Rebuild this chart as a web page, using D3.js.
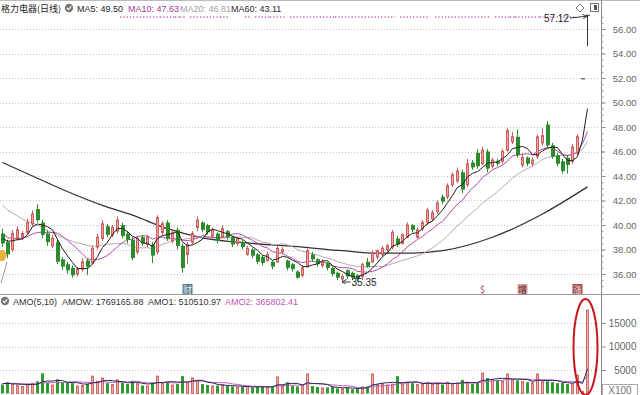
<!DOCTYPE html>
<html><head><meta charset="utf-8">
<script src="https://cdn.jsdelivr.net/npm/d3@7"></script>
<style>body{margin:0;background:#fff;}svg{display:block;font-family:"Liberation Sans",Arial,sans-serif;}</style>
</head><body><svg id="c" width="640" height="395"></svg>
<script>
// ---------- data ----------
const prevCloses = [44.8,44.6,44.3,44.5,44.0,43.7,43.4,43.5,43.3,42.9,40.8,40.1,39.5,39.2,38.9,38.7,39.2,39.0,39.1];
const opens = [39.3,38.6,38.0,38.9,39.0,39.4,40.1,41.3,40.2,39.3,
 38.3,38.6,37.2,36.8,36.5,36.0,36.4,37.1,36.9,38.2,
 38.9,39.9,39.2,39.5,40.0,39.3,38.8,37.8,39.0,38.4,
 38.4,37.8,39.4,40.2,38.7,39.6,38.3,37.6,38.6,39.8,
 40.2,40.0,39.1,39.3,39.0,39.5,39.0,38.5,38.6,37.6,
 38.0,37.6,37.4,37.1,37.0,37.0,37.8,37.1,36.8,36.2,
 35.9,36.6,37.6,37.2,36.7,36.9,36.5,36.1,35.6,36.3,
 36.1,35.9,35.8,37.0,37.0,37.4,37.6,38.0,38.2,38.9,
 38.5,39.0,40.0,39.0,39.7,40.2,40.5,41.1,42.3,42.3,
 43.3,43.6,44.3,43.3,45.1,45.9,45.0,46.0,44.8,45.2,
 45.2,46.1,46.8,47.2,44.9,45.5,45.0,45.6,46.7,48.2,
 46.5,45.7,45.2,45.5,45.2,45.9,51.93,57.12];
const highs = [39.7,38.8,39.6,39.9,39.5,40.5,41.2,41.7,40.4,39.6,
 39.2,38.8,37.4,37.0,36.7,36.6,37.3,37.3,38.3,39.3,
 40.4,40.1,40.0,40.7,40.2,39.5,39.0,39.1,39.2,39.2,
 38.6,40.8,40.3,40.4,39.6,39.8,38.5,38.6,39.5,40.7,
 40.3,40.1,39.8,39.4,40.0,39.6,39.1,39.0,38.8,38.3,
 38.1,37.7,37.5,37.8,37.1,38.3,38.2,37.2,36.9,36.3,
 36.7,38.1,37.8,37.3,37.2,37.0,36.6,36.2,36.0,36.4,
 36.2,36.0,36.9,37.3,37.9,38.0,38.3,38.5,39.6,39.1,
 39.3,40.2,40.1,39.8,40.4,41.4,41.2,42.0,42.5,43.4,
 44.3,44.7,44.5,45.4,45.3,46.2,46.4,46.2,45.5,45.4,
 46.2,47.9,47.6,47.8,45.8,45.6,45.5,47.4,47.9,48.5,
 46.7,45.9,45.4,45.7,46.6,47.4,51.93,57.12];
const lows = [38.2,37.3,37.8,38.7,38.8,39.2,39.9,40.2,38.9,38.3,
 38.1,36.8,36.3,36.0,35.7,35.8,36.2,35.9,36.8,38.0,
 38.7,39.0,39.0,39.3,38.9,38.5,37.1,37.6,38.3,38.2,
 36.9,37.6,39.2,38.7,38.5,38.0,36.1,36.8,38.4,39.5,
 39.4,39.2,38.9,38.5,38.9,38.8,38.2,38.3,38.0,37.5,
 37.3,36.8,36.7,37.0,36.4,36.9,37.6,36.3,36.2,35.6,
 35.7,36.5,37.0,36.6,36.5,36.3,35.8,35.5,35.35,35.6,
 35.5,35.4,35.5,36.5,36.9,37.2,37.4,37.8,38.0,38.2,
 38.4,38.9,39.4,38.9,39.5,40.0,40.3,40.9,41.7,42.1,
 43.1,43.4,42.6,43.1,44.5,44.6,44.9,44.3,44.6,44.8,
 45.0,46.0,46.6,45.5,44.7,44.8,44.8,45.4,46.5,46.3,
 45.4,44.8,44.2,44.2,45.0,45.7,51.93,54.6];
const closes = [38.5,37.6,39.3,39.6,39.3,40.2,40.9,40.4,39.2,38.6,
 38.9,37.0,36.6,36.3,35.9,36.4,37.0,36.6,38.1,39.0,
 40.1,39.2,39.8,40.4,39.1,38.8,37.3,38.9,38.5,39.0,
 37.5,40.6,40.1,38.9,39.4,38.3,36.5,38.4,39.3,40.4,
 39.6,39.4,39.6,38.7,39.7,39.0,38.4,38.9,38.2,38.1,
 37.5,37.0,36.9,37.6,36.6,38.1,38.0,36.5,36.4,35.7,
 36.5,37.9,37.2,36.8,37.0,36.5,36.0,35.7,35.8,35.8,
 35.7,35.6,36.8,36.6,37.7,37.9,38.1,38.3,39.4,38.4,
 39.2,40.0,39.6,39.6,40.2,41.2,41.0,41.8,41.9,43.2,
 44.1,44.4,42.9,45.0,44.7,44.8,46.1,44.6,45.3,45.0,
 46.0,47.7,47.2,45.7,45.5,45.0,45.3,47.2,47.3,46.5,
 45.58,45.0,44.4,44.9,46.36,47.21,51.93,57.12];
const prevVolumes = [2200,2500,2000,1800,2300,2100,2600,1900,2000];
const volumes = [1900,2400,2100,1800,1500,1900,2200,2600,4300,2300,
 1800,3000,2400,2300,2200,1600,1700,2100,3700,2600,
 3300,2200,1900,2900,2300,2000,2700,2100,1700,1600,
 2400,3700,2200,2500,1800,2000,3700,2400,3300,2600,
 2000,1800,1600,1700,1900,1600,1500,1300,1400,1500,
 1300,1500,1400,1300,1500,3500,1700,2400,1600,1500,
 1800,4150,1600,1400,1200,1300,1500,1100,1000,1300,
 900,1100,1400,1500,4150,1900,2100,1800,2000,3700,
 2000,2400,2200,1900,2100,2300,2000,2200,1900,2400,
 2100,2200,2900,2300,2000,2400,4350,3300,3000,2900,
 2600,4150,2900,2800,2500,2400,2300,4150,2500,2600,
 2400,2200,2300,2000,2100,3900,400,17750];
// MA60: [day index, value]
const ma60Reads = [[0,45.1],[6,44.0],[12,42.9],[20,41.6],[26,40.8],[33,39.7],[40,38.95],[50,38.5],[60,38.2],[68,37.9],[75,37.7],[82,37.7],[88,37.9],[98,39.0],[108,40.9],[117,43.11]];
const priceTicks = [36,38,40,42,44,46,48,50,52,54,56];
const volTicks = [5000,10000,15000];
const markerRanges = [[24,31],[32,34],[35,35],[36,36],[38,43],[44,45],[49,49],[51,53],[54,56],[58,66],[67,78],[80,85],[87,97],[99,101],[102,102],[103,107],[108,114]];
const eventTags = [{i:37,t:"财",bg:"#4f7c8c",fg:"#e8f0f0"},{i:96,t:"$",bg:null,fg:"#a83a3a"},{i:104,t:"增",bg:"#d9a3a3",fg:"#5a2020"},{i:115,t:"涨",bg:"#9c4646",fg:"#f4dede"}];
const legendItems = [{t:"MA5: 49.50",c:"#222",x:77},{t:"MA10: 47.63",c:"#a23c98",x:128},{t:"MA20: 46.81",c:"#a99ca3",x:180},{t:"MA60: 43.11",c:"#2b2b2b",x:231}];
const volLegend = [{t:"AMO(5,10)",c:"#333",x:13},{t:"AMOW: 1769165.88",c:"#333",x:62},{t:"AMO1: 510510.97",c:"#333",x:148},{t:"AMO2: 365802.41",c:"#c058b0",x:225}];

// ---------- scales ----------
const n = closes.length;
const svg = d3.select("#c");
const x = d3.scaleBand().domain(d3.range(n)).range([0,590]).paddingInner(0.4).paddingOuter(0.2);
const cx = i => x(i) + x.bandwidth()/2;
const y = d3.scaleLinear().domain([36,56]).range([274,29]);
const yv = d3.scaleLinear().domain([0,15000]).range([393.5,323]);

// frame
svg.append("line").attr("x1",0).attr("x2",640).attr("y1",0.5).attr("y2",0.5).attr("stroke","#bbb");
svg.append("line").attr("x1",0).attr("x2",640).attr("y1",294.5).attr("y2",294.5).attr("stroke","#999");
svg.append("line").attr("x1",601.5).attr("x2",601.5).attr("y1",0).attr("y2",395).attr("stroke","#888");

// grid
const grid = svg.append("g").attr("stroke","#cdbec6").attr("stroke-dasharray","1,2");
grid.selectAll("line.p").data(priceTicks).join("line").attr("class","p")
  .attr("x1",0).attr("x2",600).attr("y1",d=>Math.round(y(d))+0.5).attr("y2",d=>Math.round(y(d))+0.5);
grid.selectAll("line.v").data(volTicks).join("line").attr("class","v")
  .attr("x1",0).attr("x2",600).attr("y1",d=>Math.round(yv(d))+0.5).attr("y2",d=>Math.round(yv(d))+0.5);

// axes
const ax = svg.append("g").attr("transform","translate(601.5,0)")
  .call(d3.axisRight(y).tickValues(priceTicks).tickSize(4).tickFormat(d3.format(".2f")));
ax.select(".domain").remove();
ax.selectAll("line").attr("stroke","#888");
ax.selectAll("text").attr("x",35).attr("text-anchor","end").attr("fill","#666")
  .attr("font-size","9.5px").attr("font-family","'Liberation Sans',Arial,sans-serif");
const axm = svg.append("g").attr("transform","translate(601.5,0)")
  .call(d3.axisRight(y).tickValues(d3.range(35,57.5,0.5)).tickSize(2).tickFormat(""));
axm.select(".domain").remove(); axm.selectAll("line").attr("stroke","#999");
const axv = svg.append("g").attr("transform","translate(601.5,0)")
  .call(d3.axisRight(yv).tickValues(volTicks).tickSize(4).tickFormat(d3.format("d")));
axv.select(".domain").remove();
axv.selectAll("line").attr("stroke","#888");
axv.selectAll("text").attr("x",35).attr("text-anchor","end").attr("fill","#666")
  .attr("font-size","10px").attr("font-family","'Liberation Sans',Arial,sans-serif");
svg.append("rect").attr("x",602.5).attr("y",384.5).attr("width",35).attr("height",11).attr("fill","#fff").attr("stroke","#aaa");
svg.append("text").attr("x",620).attr("y",393.5).attr("text-anchor","middle").attr("font-size","10px").attr("fill","#777").text("X100");

// top event markers
const mk = svg.append("g").attr("stroke","#c46aae").attr("stroke-width",1.4).attr("stroke-dasharray","1.3,2");
mk.selectAll("line").data(markerRanges).join("line")
  .attr("x1",d=>x(d[0])-1).attr("x2",d=>x(d[1])+x.bandwidth()+1).attr("y1",17).attr("y2",17);

// moving averages
const allC = prevCloses.concat(closes);
const off = prevCloses.length;
const ma = k => d3.range(n).map(i => d3.mean(allC.slice(Math.max(0,i+off-k+1), i+off+1)));
const lineP = d3.line().x((d,i)=>cx(i)).y(d=>y(d));
svg.append("path").attr("d", d3.line().x(d=>cx(d[0])).y(d=>y(d[1])).curve(d3.curveMonotoneX)(ma60Reads))
  .attr("fill","none").attr("stroke","#3a2f34").attr("stroke-width",1.3);
svg.append("path").attr("d", lineP(ma(20))).attr("fill","none").attr("stroke","#b8a8b0").attr("stroke-width",1);
svg.append("path").attr("d", lineP(ma(10))).attr("fill","none").attr("stroke","#b04aa2").attr("stroke-width",1);

// candles
const data = d3.range(n).map(i=>({i,o:opens[i],h:highs[i],l:lows[i],c:closes[i],v:volumes[i]}));
const col = d => d.c===d.o ? "#333" : (d.c>d.o ? "#cf5c5c" : "#2c8c2c");
const cg = svg.append("g");
cg.selectAll("line").data(data).join("line")
  .attr("x1",d=>cx(d.i)).attr("x2",d=>cx(d.i)).attr("y1",d=>y(d.h)).attr("y2",d=>y(d.l))
  .attr("stroke",col).attr("stroke-width",1);
cg.selectAll("rect").data(data).join("rect")
  .attr("x",d=>d.c>d.o ? x(d.i)+0.5 : x(d.i))
  .attr("width",d=>d.c>d.o ? x.bandwidth()-1 : x.bandwidth()+1)
  .attr("y",d=>y(Math.max(d.o,d.c)) - (d.c===d.o?0.5:0))
  .attr("height",d=>Math.max(1, Math.abs(y(d.o)-y(d.c))))
  .attr("fill",d=>d.c===d.o ? "#333" : (d.c>d.o ? "#eaa6a6" : "#2c8c2c"))
  .attr("stroke",d=>d.c>d.o ? "#cf5c5c" : "none").attr("stroke-width",1);

svg.append("path").attr("d", lineP(ma(5))).attr("fill","none").attr("stroke","#1e1e1e").attr("stroke-width",1);

// annotations
const defs = svg.append("defs");
defs.append("marker").attr("id","ah").attr("viewBox","0 0 6 6").attr("refX",5).attr("refY",3)
  .attr("markerWidth",5).attr("markerHeight",5).attr("orient","auto")
  .append("path").attr("d","M0,0L6,3L0,6").attr("fill","none").attr("stroke","#333");
const hiI = d3.maxIndex(highs), loI = d3.minIndex(lows);
svg.append("line").attr("x1",570).attr("y1",18).attr("x2",cx(hiI)-1).attr("y2",y(highs[hiI])+1)
  .attr("stroke","#333").attr("marker-end","url(#ah)");
svg.append("text").attr("x",569).attr("y",22).attr("text-anchor","end").attr("font-size","10px").attr("fill","#222").text(d3.format(".2f")(highs[hiI]));
svg.append("line").attr("x1",cx(loI)+8).attr("y1",y(lows[loI])).attr("x2",cx(loI)).attr("y2",y(lows[loI]))
  .attr("stroke","#333").attr("marker-end","url(#ah)");
svg.append("text").attr("x",cx(loI)+9).attr("y",y(lows[loI])+4).attr("font-size","10px").attr("fill","#222").text(d3.format(".2f")(lows[loI]));

// event tags at panel bottom
const tg = svg.selectAll("g.tag").data(eventTags).join("g").attr("class","tag")
  .attr("transform",d=>`translate(${cx(d.i)},289)`);
tg.filter(d=>d.bg).append("rect").attr("x",-5).attr("y",-5).attr("width",10).attr("height",10).attr("fill",d=>d.bg);
tg.append("text").attr("text-anchor","middle").attr("y",3.5).attr("font-size","9px")
  .attr("font-family","'Noto Sans CJK SC',sans-serif").attr("fill",d=>d.fg).text(d=>d.t);

// volume bars
const vg = svg.append("g");
vg.selectAll("rect").data(data).join("rect")
  .attr("x",d=>d.c>=d.o ? x(d.i)+0.5 : x(d.i))
  .attr("width",d=>d.c>=d.o ? x.bandwidth()-1 : x.bandwidth())
  .attr("y",d=>yv(d.v)).attr("height",d=>yv(0)-yv(d.v))
  .attr("fill",d=>d.c>=d.o ? "#eba9a9" : "#2f9a2f")
  .attr("stroke",d=>d.c>=d.o ? "#cf6a6a" : "none");
const allV = prevVolumes.concat(volumes), vo = prevVolumes.length;
const vma = k => d3.range(n).map(i => d3.mean(allV.slice(Math.max(0,i+vo-k+1), i+vo+1)));
const lineV = d3.line().x((d,i)=>cx(i)).y(d=>yv(d));
svg.append("path").attr("d", lineV(vma(10))).attr("fill","none").attr("stroke","#c35ab5").attr("stroke-width",1);
svg.append("path").attr("d", lineV(vma(5))).attr("fill","none").attr("stroke","#27285e").attr("stroke-width",1);

// red ellipse highlight
svg.append("ellipse").attr("cx",cx(n-1)-2).attr("cy",347).attr("rx",12).attr("ry",48)
  .attr("fill","none").attr("stroke","#c8141c").attr("stroke-width",2);

// left side marker
svg.append("path").attr("d","M0,250L4,250L7,255L4,261L0,261Z").attr("fill","#f0b040");
svg.append("line").attr("x1",7).attr("y1",262).attr("x2",1).attr("y2",283).attr("stroke","#999");

// top legend
svg.append("text").attr("x",1).attr("y",12).attr("font-size","9px").attr("fill","#222")
  .attr("font-family","'Noto Sans CJK SC',sans-serif").text("格力电器(日线)");
const icon = (cxp,cyp)=>{ svg.append("circle").attr("cx",cxp).attr("cy",cyp).attr("r",4.2).attr("fill","#777");
  svg.append("path").attr("d",`M${cxp-2},${cyp}L${cxp-0.5},${cyp+1.6}L${cxp+2.2},${cyp-1.6}`).attr("fill","none").attr("stroke","#fff").attr("stroke-width",1.1); };
icon(69,8);
svg.selectAll("text.lg").data(legendItems).join("text").attr("class","lg")
  .attr("x",d=>d.x).attr("y",12).attr("font-size","9px").attr("fill",d=>d.c).text(d=>d.t);
icon(5,301);
svg.selectAll("text.vl").data(volLegend).join("text").attr("class","vl")
  .attr("x",d=>d.x).attr("y",305).attr("font-size","9px").attr("fill",d=>d.c).text(d=>d.t);

// top-right icons
svg.append("path").attr("d","M580,4L584,8L580,12L576,8Z").attr("fill","#fff").attr("stroke","#777");
svg.append("rect").attr("x",590.5).attr("y",3.5).attr("width",8).attr("height",8).attr("fill","#fff").attr("stroke","#777");
svg.append("rect").attr("x",594).attr("y",5).attr("width",3).attr("height",5).attr("fill","#555");
</script></body></html>
